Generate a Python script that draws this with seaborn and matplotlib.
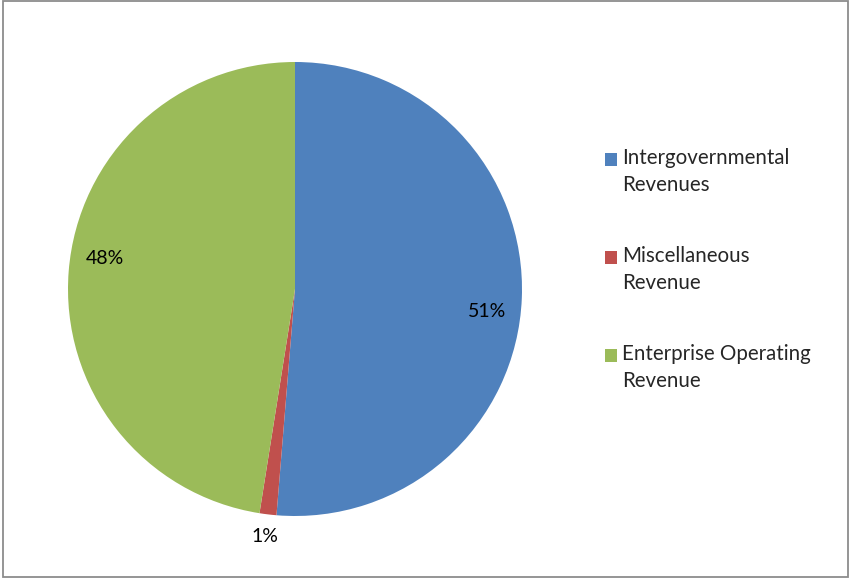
import matplotlib
matplotlib.use('Agg')
import matplotlib.pyplot as plt
import seaborn as sns
import numpy as np
from matplotlib.patches import Patch, Rectangle
from matplotlib.legend_handler import HandlerPatch

# Revenue shares (percent)
categories = ['Intergovernmental\nRevenues', 'Miscellaneous\nRevenue', 'Enterprise Operating\nRevenue']
shares = [51.3, 1.2, 47.5]
colors = ['#4F81BD', '#C0504D', '#9BBB59']

sns.set_theme(style='white')
plt.rcParams['font.family'] = ['Lato', 'DejaVu Sans']
FS = 14.8

fig = plt.figure(figsize=(8.5, 5.78), dpi=100)
W, H = 850, 578

# pie placed with center (295, 289) px and radius 227 px
cx, cy, r = 295, 289, 227
ax = fig.add_axes([(cx - r) / W, (H - cy - r) / H, 2 * r / W, 2 * r / H])
wedges, texts, autotexts = ax.pie(
    shares, colors=sns.color_palette(colors), startangle=90, counterclock=False,
    autopct='%.0f%%', pctdistance=0.85, radius=1,
    wedgeprops=dict(linewidth=0), textprops=dict(fontsize=14, color='black'))
ax.set_xlim(-1, 1)
ax.set_ylim(-1, 1)

# Excel-like label placement: small slice label outside, others nudged slightly
for w, t in zip(wedges, autotexts):
    span = w.theta2 - w.theta1
    mid = (w.theta1 + w.theta2) / 2
    if span < 10:
        a = np.deg2rad(mid)
        t.set_position((1.1 * np.cos(a), 1.1 * np.sin(a)))
    else:
        a = np.deg2rad(mid - 4.5)
        t.set_position((0.85 * np.cos(a), 0.85 * np.sin(a)))


def first_line_square(legend, orig_handle, xdescent, ydescent, width, height, fontsize):
    # align square with the first line of a two-line label
    return Rectangle((-xdescent, -ydescent + 0.62 * fontsize), width, height)


handles = [Patch(facecolor=c, edgecolor='none') for c in colors]
leg = fig.legend(handles, categories, loc='upper left',
                 bbox_to_anchor=(605 / W, 1 - 148 / H), frameon=False,
                 fontsize=FS, handlelength=0.6, handleheight=0.6,
                 handletextpad=0.25, labelspacing=2.47, borderpad=0, borderaxespad=0,
                 handler_map={Patch: HandlerPatch(patch_func=first_line_square)})
for t in leg.get_texts():
    t.set_linespacing(1.45)

# outer chart border
fig.add_artist(Rectangle((3 / W, 1 / H), 845 / W, 576 / H, transform=fig.transFigure,
                         fill=False, edgecolor='#8c8c8c', linewidth=1.3))

fig.savefig('out.png', dpi=100)
